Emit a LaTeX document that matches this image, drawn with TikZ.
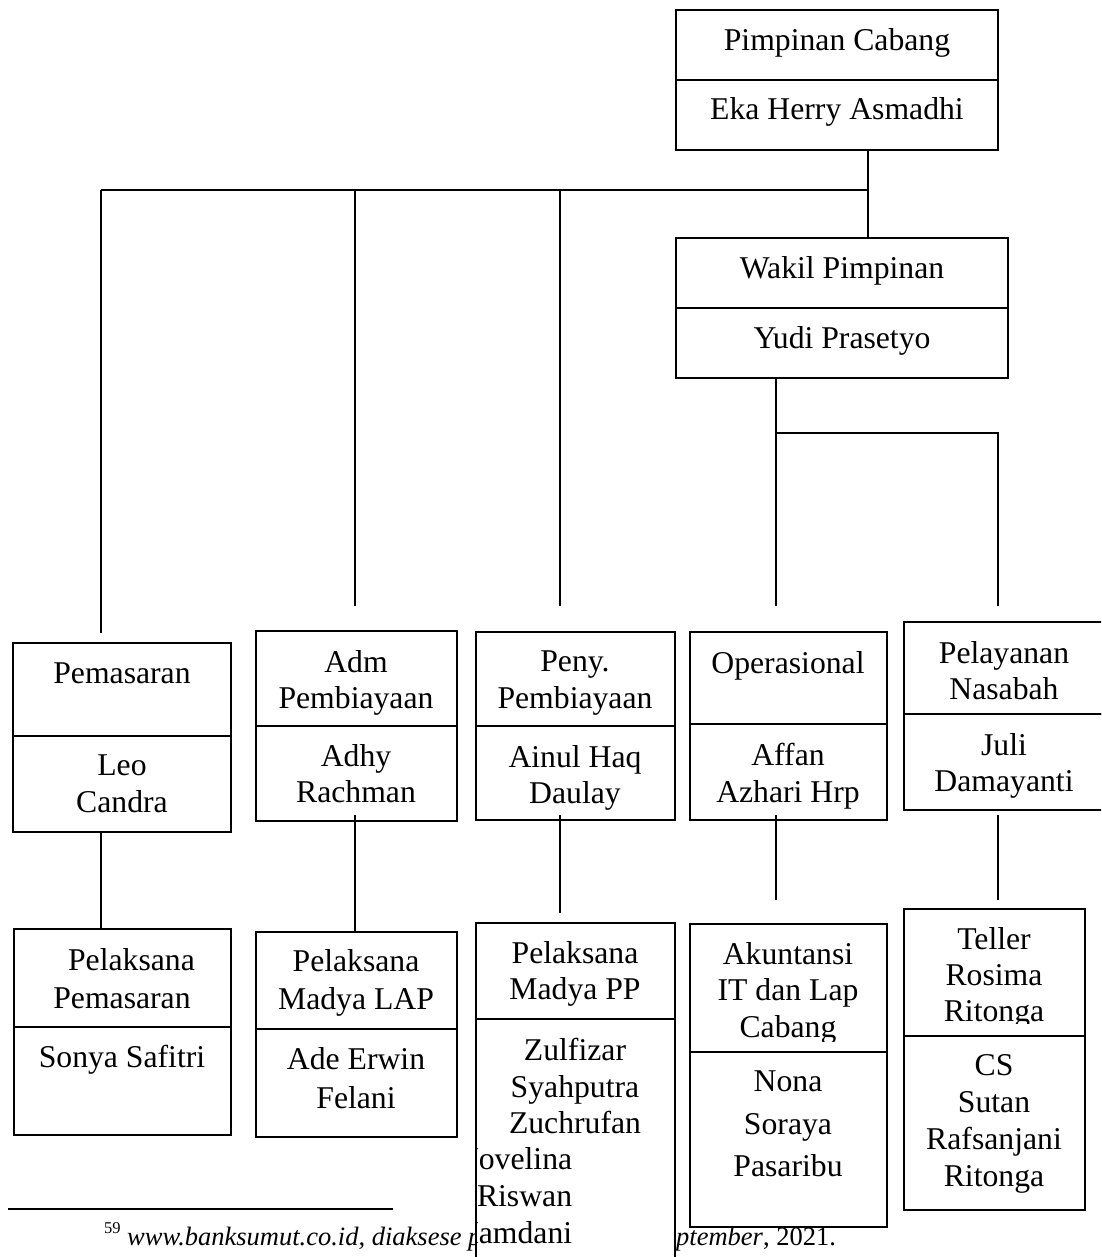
\documentclass[tikz,border=0pt]{standalone}
\usepackage{fontspec}
\setmainfont{Liberation Serif}
\newcommand\tstrut{\rule{0pt}{25pt}}
\tikzset{
  box/.style={draw, line width=2.2pt, fill=white, rectangle, inner sep=0pt, outer sep=0pt, anchor=north west},
  conn/.style={line width=1.6pt},
  thinconn/.style={line width=1.2pt},
  txt/.style={inner sep=0pt, outer sep=0pt, anchor=north, yshift=25pt, align=center,
    font=\fontsize{31.7}{#1}\selectfont, execute at begin node=\tstrut},
  txt/.default=36.7,
  ml/.style={yshift=-4pt},
  ln/.style={inner sep=0pt, outer sep=0pt, anchor=base west, font=\fontsize{31.7}{36.7}\selectfont},
}
\begin{document}
\begin{tikzpicture}[x=1pt,y=-1pt]
\useasboundingbox (0,0) rectangle (1101,1257);
\clip (0,0) rectangle (1101,1257);

% footnote (drawn first, partly hidden by a box)
\coordinate (fnA) at (8,1209);
\coordinate (fnB) at (393,1209);
\draw[line width=1.3pt] (fnA) -- (fnB);
\node[anchor=base west, inner sep=0pt, font=\fontsize{16.5}{18}\selectfont] (fnnum) at (104,1233) {59};
\node[anchor=base west, inner sep=0pt, font=\fontsize{26.5}{30}\selectfont\itshape] (fntxt) at (127,1245) {www.banksumut.co.id, diaksese p};
\node[anchor=base west, inner sep=0pt, font=\fontsize{26.5}{30}\selectfont] (fntxt2) at (676,1245) {\textit{ptember}, 2021.};

% boxes
\node[box, minimum width=322pt, minimum height=70pt] (pcT) at (676,10) {};
\node[box, minimum width=322pt, minimum height=70pt] (pcB) at (676,80) {};
\node[box, minimum width=332pt, minimum height=70pt] (wkT) at (676,238) {};
\node[box, minimum width=332pt, minimum height=70pt] (wkB) at (676,308) {};

\node[box, minimum width=218pt, minimum height=93pt] (pemT) at (13,643) {};
\node[box, minimum width=218pt, minimum height=96pt] (pemB) at (13,736) {};
\node[box, minimum width=201pt, minimum height=95pt] (admT) at (256,631) {};
\node[box, minimum width=201pt, minimum height=95pt] (admB) at (256,726) {};
\node[box, minimum width=199pt, minimum height=94pt] (penyT) at (476,632) {};
\node[box, minimum width=199pt, minimum height=94pt] (penyB) at (476,726) {};
\node[box, minimum width=197pt, minimum height=92pt] (opT) at (690,632) {};
\node[box, minimum width=197pt, minimum height=96pt] (opB) at (690,724) {};
\node[box, minimum width=200pt, minimum height=92pt] (plT) at (904,622) {};
\node[box, minimum width=200pt, minimum height=96pt] (plB) at (904,714) {};

\node[box, minimum width=217pt, minimum height=98pt] (ppemT) at (14,929) {};
\node[box, minimum width=217pt, minimum height=108pt] (ppemB) at (14,1027) {};
\node[box, minimum width=201pt, minimum height=97pt] (lapT) at (256,932) {};
\node[box, minimum width=201pt, minimum height=108pt] (lapB) at (256,1029) {};
\node[box, minimum width=199pt, minimum height=96pt] (ppT) at (476,923) {};
\node[box, minimum width=199pt, minimum height=260pt] (ppB) at (476,1019) {};
\node[box, minimum width=197pt, minimum height=128pt] (akT) at (690,924) {};
\node[box, minimum width=197pt, minimum height=175pt] (akB) at (690,1052) {};
\node[box, minimum width=181pt, minimum height=127pt] (telT) at (904,909) {};
\node[box, minimum width=181pt, minimum height=174pt] (telB) at (904,1036) {};

% texts
\node[txt] (pcT-t) at (837,51) {Pimpinan Cabang};
\node[txt] (pcB-t) at (837,120) {Eka Herry Asmadhi};
\node[txt] (wkT-t) at (842,278) {Wakil Pimpinan};
\node[txt] (wkB-t) at (842,348) {Yudi Prasetyo};

\node[txt] (pemT-t) at (122,683) {Pemasaran};
\node[txt, ml] (pemB-t) at (122,776) {Leo\\Candra};
\node[txt, ml] (admT-t) at (356,671) {Adm\\Pembiayaan};
\node[txt, ml] (admB-t) at (356,765) {Adhy\\Rachman};
\node[txt, ml] (penyT-t) at (575,672) {Peny.\\Pembiayaan};
\node[txt, ml] (penyB-t) at (575,766) {Ainul Haq\\Daulay};
\node[txt] (opT-t) at (788,673) {Operasional};
\node[txt, ml] (opB-t) at (788,764) {Affan\\Azhari Hrp};
\node[txt, ml] (plT-t) at (1004,662) {Pelayanan\\Nasabah};
\node[txt, ml] (plB-t) at (1004,754) {Juli\\Damayanti};

\node[txt=38, ml] (ppemT-t) at (122,969) {\hspace{19pt}Pelaksana\\Pemasaran};
\node[txt] (ppemB-t) at (122,1067) {Sonya Safitri};
\node[txt=38, ml] (lapT-t) at (356,970) {Pelaksana\\Madya LAP};
\node[txt=39, ml] (lapB-t) at (356,1068) {Ade Erwin\\Felani};
\node[txt, ml] (ppT-t) at (575,962) {Pelaksana\\Madya PP};
\begin{scope}
  \clip (ppB.north west) rectangle (ppB.south east);
  \node[txt, ml] (ppB-t) at (575,1059) {Zulfizar\\Syahputra\\Zuchrufan};
  \node[ln] (ppB-t2) at (456,1169) {Novelina};
  \node[ln] (ppB-t3) at (477,1206) {Riswan};
  \node[ln] (ppB-t4) at (456,1243) {Hamdani};
\end{scope}
\draw[line width=2.2pt] (ppB.north west) rectangle (ppB.south east);
\begin{scope}
  \clip (akT.north west) rectangle ([yshift=11pt]akT.south east);
  \node[txt, ml] (akT-t) at (788,963) {Akuntansi\\IT dan Lap\\Cabang};
\end{scope}
\node[txt=42.5, ml] (akB-t) at (788,1092) {Nona\\Soraya\\Pasaribu};
\begin{scope}
  \clip (telT.north west) rectangle ([yshift=13pt]telT.south east);
  \node[txt=36, ml] (telT-t) at (994,948) {Teller\\Rosima\\Ritonga};
\end{scope}
\node[txt=37, ml] (telB-t) at (994,1075) {CS\\Sutan\\Rafsanjani\\Ritonga};

% connectors
\coordinate (j0) at (868,190);
\coordinate (h1) at (101,190);
\coordinate (h2) at (355,190);
\coordinate (h3) at (560,190);
\coordinate (w1) at (776,433);
\coordinate (w2) at (998,433);
\draw[thinconn] (h1) -- (j0);
\draw[conn] (pcB.south -| j0) -- (wkT.north -| j0);
\draw[thinconn, shorten >=10pt] (h1) -- (h1 |- pemT.north);
\draw[thinconn, shorten >=25pt] (h2) -- (h2 |- admT.north);
\draw[thinconn, shorten >=26pt] (h3) -- (h3 |- penyT.north);
\draw[conn, shorten >=26pt] (wkB.south -| w1) -- (w1 |- opT.north);
\draw[conn, shorten >=16pt] (w1) -- (w2) -- (w2 |- plT.north);

\draw[conn] (pemB.south -| h1) -- (ppemT.north -| h1);
\draw[conn, shorten <=-6pt] (admB.south -| h2) -- (lapT.north -| h2);
\draw[conn, shorten <=-5pt, shorten >=10pt] (penyB.south -| h3) -- (ppT.north -| h3);
\draw[conn, shorten <=-5pt, shorten >=24pt] (opB.south -| w1) -- (akT.north -| w1);
\draw[conn, shorten <=5pt, shorten >=9pt] (plB.south -| w2) -- (telT.north -| w2);
\end{tikzpicture}
\end{document}
